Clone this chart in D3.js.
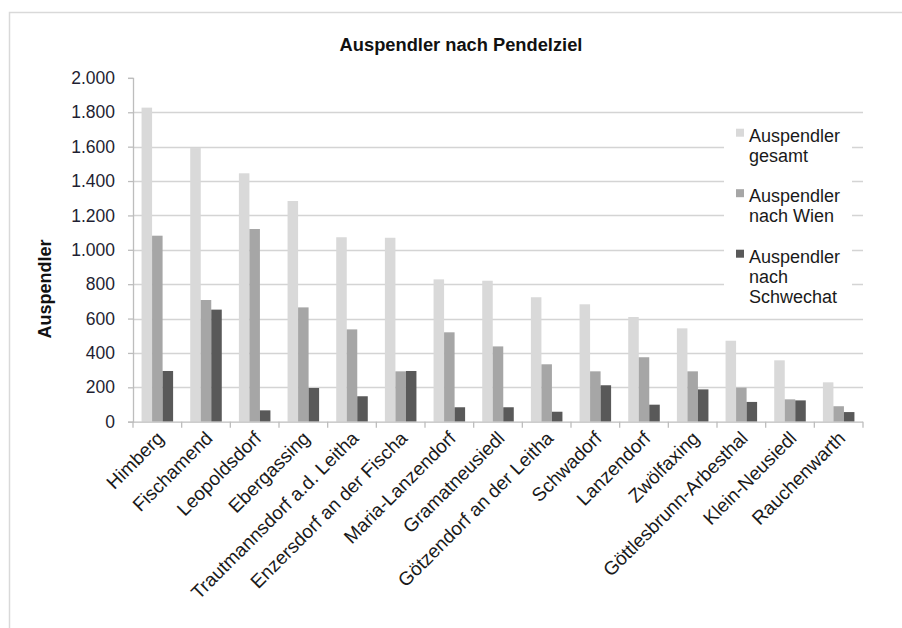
<!DOCTYPE html>
<html>
<head>
<meta charset="utf-8">
<script src="https://cdn.jsdelivr.net/npm/d3@7"></script>
<style>
  html, body { margin: 0; padding: 0; background: #fff; }
  svg { display: block; font-family: Arial, "Liberation Sans", sans-serif; }
</style>
</head>
<body>
<svg id="chart" width="902" height="628"></svg>
<script>
// Gemeinden (Pendelquelle)
const categories = [
  "Himberg", "Fischamend", "Leopoldsdorf", "Ebergassing",
  "Trautmannsdorf a.d. Leitha", "Enzersdorf an der Fischa",
  "Maria-Lanzendorf", "Gramatneusiedl", "Götzendorf an der Leitha",
  "Schwadorf", "Lanzendorf", "Zwölfaxing", "Göttlesbrunn-Arbesthal",
  "Klein-Neusiedl", "Rauchenwarth"
];

// Auspendler je Gemeinde
const gesamt    = [1827, 1592, 1445, 1284, 1073, 1070, 828, 820, 724, 683, 609, 543, 471, 357, 229];
const nachWien  = [1082,  708, 1121,  665,  537,  293, 520, 438, 334, 293, 375, 293, 198, 130,  90];
const nachSchwechat = [295, 652, 66, 196, 148, 295, 84, 84, 58, 212, 99, 188, 115, 124, 56];

const seriesNames = ["Auspendler gesamt", "Auspendler nach Wien", "Auspendler nach Schwechat"];
const seriesValues = [gesamt, nachWien, nachSchwechat];
const seriesColors = ["#d9d9d9", "#a6a6a6", "#595959"];
// Legendentext in Zeilen umbrochen
const legendLines = [["Auspendler", "gesamt"], ["Auspendler", "nach Wien"], ["Auspendler", "nach", "Schwechat"]];

const yTicks = [0, 200, 400, 600, 800, 1000, 1200, 1400, 1600, 1800, 2000];

const svg = d3.select("#chart");

// Diagrammrahmen
svg.append("path")
  .attr("d", "M9.5,628 V12.5 H902")
  .attr("fill", "none")
  .attr("stroke", "#d9d9d9")
  .attr("stroke-width", 1.5);

const plot = { left: 133, right: 863, top: 77.9, bottom: 421.7 };

const x = d3.scaleBand().domain(categories).range([plot.left, plot.right]);
const bw = x.bandwidth();
const groupPad = bw * 0.176;
const x1 = d3.scaleBand().domain(d3.range(seriesNames.length)).range([groupPad, bw - groupPad]);
const y = d3.scaleLinear().domain([0, 2000]).range([plot.bottom, plot.top]);

const de = d3.formatLocale({ decimal: ",", thousands: ".", grouping: [3], currency: ["", " €"] });
const fmt = de.format(",d");

// Hilfslinien
svg.append("g")
  .selectAll("line")
  .data(yTicks.filter(t => t > 0 && t < 2000))
  .join("line")
  .attr("x1", plot.left).attr("x2", plot.right)
  .attr("y1", d => Math.round(y(d)) + 0.5).attr("y2", d => Math.round(y(d)) + 0.5)
  .attr("stroke", "#d4d4d4")
  .attr("stroke-width", 1.3);

// Y-Achse
const yAxis = svg.append("g")
  .attr("transform", `translate(${plot.left},0)`)
  .call(d3.axisLeft(y).tickValues(yTicks).tickFormat(fmt).tickSize(5).tickPadding(13));
yAxis.select(".domain").attr("stroke", "#bdbdbd").attr("stroke-width", 1.3);
yAxis.selectAll(".tick line").attr("stroke", "#bdbdbd").attr("stroke-width", 1.3);
yAxis.selectAll(".tick text")
  .attr("font-size", 17.5)
  .attr("font-family", "Arial, 'Liberation Sans', sans-serif")
  .attr("fill", "#1f1f33");

// Balken
const groups = svg.append("g")
  .selectAll("g")
  .data(categories)
  .join("g")
  .attr("transform", d => `translate(${x(d)},0)`);

groups.selectAll("rect")
  .data((d, i) => seriesValues.map((vals, s) => ({ s, v: vals[i] })))
  .join("rect")
  .attr("x", d => x1(d.s))
  .attr("width", x1.bandwidth())
  .attr("y", d => y(d.v))
  .attr("height", d => y(0) - y(d.v))
  .attr("fill", d => seriesColors[d.s]);

// Kategorienachse
const xAxis = svg.append("g")
  .attr("transform", `translate(0,${plot.bottom})`);
xAxis.append("line")
  .attr("x1", plot.left).attr("x2", plot.right)
  .attr("y1", 0.5).attr("y2", 0.5)
  .attr("stroke", "#bdbdbd").attr("stroke-width", 1.3);
xAxis.selectAll("line.tick")
  .data(d3.range(categories.length + 1))
  .join("line")
  .attr("class", "tick")
  .attr("x1", i => plot.left + i * bw).attr("x2", i => plot.left + i * bw)
  .attr("y1", 0).attr("y2", 6)
  .attr("stroke", "#bdbdbd").attr("stroke-width", 1.3);

svg.append("g")
  .selectAll("text")
  .data(categories)
  .join("text")
  .attr("transform", d => `translate(${x(d) + bw / 2 + 3},${plot.bottom + 13}) rotate(-45)`)
  .attr("text-anchor", "end")
  .attr("dy", "0.35em")
  .attr("font-size", 19)
  .attr("fill", "#1a1a1a")
  .text(d => d);

// Titel
svg.append("text")
  .attr("x", 461).attr("y", 51)
  .attr("text-anchor", "middle")
  .attr("font-size", 18.3)
  .attr("font-weight", "bold")
  .attr("fill", "#111")
  .text("Auspendler nach Pendelziel");

// Achsentitel
svg.append("text")
  .attr("transform", "translate(51,289) rotate(-90)")
  .attr("text-anchor", "middle")
  .attr("font-size", 18)
  .attr("font-weight", "bold")
  .attr("fill", "#111")
  .text("Auspendler");

// Legende
const legend = svg.append("g");
legend.append("rect")
  .attr("x", 724).attr("y", 116).attr("width", 128).attr("height", 196)
  .attr("fill", "#fff");

const items = legend.selectAll("g.item")
  .data(seriesNames)
  .join("g")
  .attr("class", "item")
  .attr("transform", (d, i) => `translate(736,${141.7 + i * 60.5})`);

items.append("rect")
  .attr("x", 0).attr("y", -13).attr("width", 8).attr("height", 8)
  .attr("fill", (d, i) => seriesColors[i]);

items.append("text")
  .attr("x", 13)
  .attr("font-size", 18)
  .attr("fill", "#1a1a1a")
  .selectAll("tspan")
  .data((d, i) => legendLines[i])
  .join("tspan")
  .attr("x", 13)
  .attr("dy", (d, j) => j === 0 ? 0 : 20)
  .text(d => d);
</script>
</body>
</html>
